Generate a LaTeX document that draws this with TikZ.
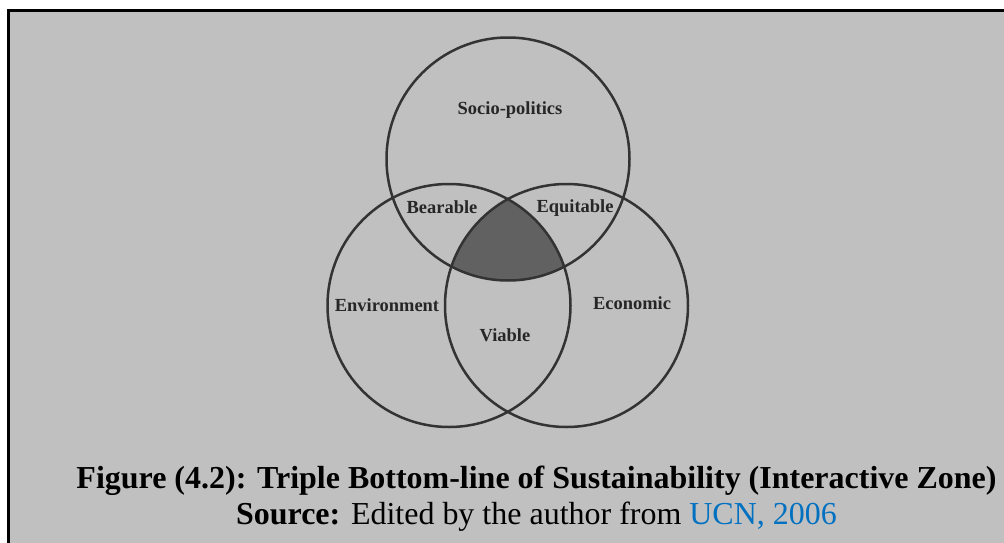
\documentclass[tikz,border=0pt]{standalone}
\usepackage{fontspec}
\setmainfont{Liberation Serif}
\definecolor{bggray}{RGB}{192,192,192}
\definecolor{srcblue}{RGB}{0,112,192}
\begin{document}
\begin{tikzpicture}
\useasboundingbox (0,0) rectangle (20.08,10.84);
\clip (0,0) rectangle (20.08,10.84);
\fill[white] (0,0) rectangle (20.08,10.84);
\filldraw[fill=bggray, draw=black, line width=0.06cm] (0.18,-1) rectangle (21,10.64);

% interactive zone
\begin{scope}
	\clip (10.16,7.66) circle (2.43);
	\clip (8.98,4.73) circle (2.43);
	\fill[black!62] (11.33,4.73) circle (2.43);
\end{scope}

\begin{scope}[every node/.style={circle,draw=black!80,line width=0.05cm,minimum size=4.86cm,inner sep=0pt}]
	\node (SP) at (10.16,7.66) {};
	\node (EN) at (8.98,4.73) {};
	\node (EC) at (11.33,4.73) {};
\end{scope}

\begin{scope}[every node/.style={font=\fontsize{10.5}{12}\selectfont\bfseries,text=black!85,inner sep=1pt}]
	\node (socio) at (10.2,8.64) {Socio-politics};
	\node (bear) at (8.84,6.70) {Bearable};
	\node (equi) at (11.5,6.68) {Equitable};
	\node (env) at (7.74,4.74) {Environment};
	\node (eco) at (12.64,4.78) {Economic};
	\node (via) at (10.1,4.14) {Viable};
\end{scope}

\node[anchor=base,font=\fontsize{18.2}{22}\selectfont\bfseries] (fig) at (10.73,1.08) {Figure (4.2): Triple Bottom-line of Sustainability (Interactive Zone)};
\node[anchor=base,font=\fontsize{18.2}{22}\selectfont] (src) at (10.73,0.36) {\textbf{Source:} Edited by the author from \textcolor{srcblue}{UCN, 2006}};
%\node (note) at (10,10) {};
\end{tikzpicture}
\end{document}
